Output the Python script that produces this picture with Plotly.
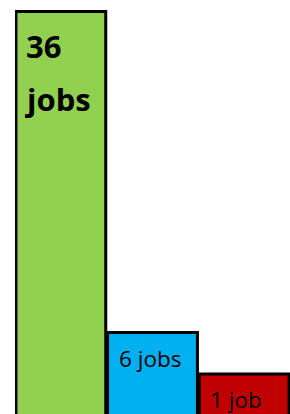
import plotly.graph_objects as go

# Data
categories = ["A", "B", "C"]
job_labels_top = ["36", "6 jobs", "1 job"]
job_labels_bottom = ["jobs", "", ""]
bar_heights = [404.5, 83.5, 42]   # visual heights (bars are not to scale)
colors = ["#92D050", "#00B0F0", "#C00000"]

xpos = list(range(len(categories)))
BARGAP = 0.02

fig = go.Figure()
fig.add_trace(go.Bar(
    x=xpos, y=bar_heights,
    marker=dict(color=colors, line=dict(color="black", width=3)),
    hoverinfo="skip",
))

font_fam = "Open Sans"
ann = []
ann.append(dict(x=xpos[0] - 0.5 + BARGAP / 2, y=bar_heights[0], xref="x", yref="y",
                text="<b>" + job_labels_top[0] + "</b>", showarrow=False,
                xanchor="left", yanchor="top", xshift=8, yshift=-11,
                font=dict(family=font_fam, size=31, color="black")))
ann.append(dict(x=xpos[0] - 0.5 + BARGAP / 2, y=bar_heights[0], xref="x", yref="y",
                text="<b>" + job_labels_bottom[0] + "</b>", showarrow=False,
                xanchor="left", yanchor="top", xshift=7, yshift=-64,
                font=dict(family=font_fam, size=31, color="black")))
for i in (1, 2):
    ann.append(dict(x=xpos[i] - 0.5 + BARGAP / 2, y=bar_heights[i], xref="x", yref="y",
                    text=job_labels_top[i], showarrow=False,
                    xanchor="left", yanchor="top", xshift=9, yshift=-8,
                    font=dict(family=font_fam, size=22.5, color="black")))

fig.update_layout(
    width=290, height=414,
    margin=dict(l=15, r=0, t=0, b=0),
    paper_bgcolor="white", plot_bgcolor="white",
    bargap=BARGAP,
    showlegend=False,
    annotations=ann,
    xaxis=dict(range=[-0.5, 2.5], visible=False, fixedrange=True),
    yaxis=dict(range=[2, 416], visible=False, fixedrange=True),
)

fig.write_html("out.html", config={"displayModeBar": False},
               post_script="document.body.style.margin='0';document.body.style.overflow='hidden';")
